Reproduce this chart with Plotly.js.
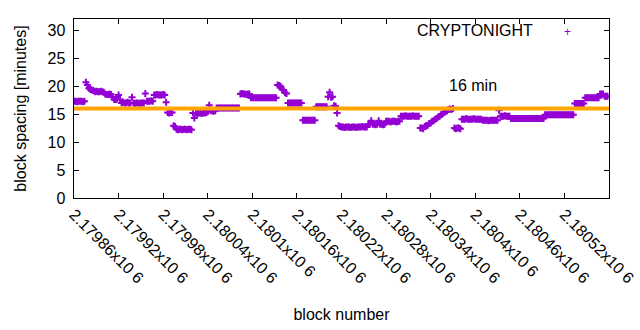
<!DOCTYPE html>
<html>
<head>
<meta charset="utf-8">
<script src="https://cdn.plot.ly/plotly-3.0.1.min.js"></script>
<style>html,body{margin:0;padding:0;background:#fff;}#chart{width:640px;height:330px;}</style>
</head>
<body>
<div id="chart"></div>
<script>
// block spacing [minutes], one reading every 2 blocks starting at firstBlock
const firstBlock = 2179860;
const blockStep = 2;
const spacingMinutes = [
  17.3,17.3,17.2,17.3,17.3,17.3,17.2,17.3,
  20.7,20.2,
  19.6,19.4,19.3,19.2,
  19.0,19.1,19.0,19.0,19.1,19.0,18.9,
  18.6,18.5,18.5,18.6,18.5,
  18.0,
  17.6,17.6,17.7,18.4,17.6,
  17.0,17.1,17.0,17.0,17.1,17.0,17.0,
  18.0,
  17.0,16.9,17.0,17.0,16.9,17.0,17.0,17.0,
  18.7,
  17.3,17.3,17.3,17.4,17.3,
  18.4,18.4,18.5,18.4,18.4,18.4,18.5,18.4,
  17.1,
  15.3,15.2,15.3,15.3,
  12.9,12.8,
  12.3,12.2,12.3,12.3,12.2,12.3,12.3,12.2,12.3,12.3,12.2,
  15.2,14.3,15.2,15.1,15.2,15.2,15.1,15.2,15.2,15.3,
  15.4,
  16.6,
  15.6,15.6,15.5,15.6,
  16.1,16.1,16.1,16.1,16.1,16.1,16.1,16.1,16.1,16.1,16.1,16.1,16.1,16.1,16.1,16.1,
  18.6,18.7,18.6,18.6,18.5,18.6,18.6,
  17.9,17.9,17.9,17.9,17.9,17.9,17.9,17.9,17.9,17.9,17.9,17.9,17.9,17.9,17.9,17.9,17.9,17.9,
  20.2,20.1,20.0,
  19.4,19.3,
  18.8,18.7,
  17.0,17.0,17.0,17.0,17.0,17.0,17.0,17.0,17.0,17.0,
  13.9,13.9,13.9,13.9,13.9,13.9,13.9,13.9,13.9,
  16.3,16.3,16.3,16.3,16.3,16.3,16.3,16.3,
  18.1,18.9,18.0,18.1,
  16.5,16.4,
  15.2,
  12.9,12.8,
  12.7,12.7,12.6,12.7,12.7,12.7,12.6,12.7,12.7,12.7,12.6,12.7,12.7,12.7,12.8,12.7,12.7,12.7,
  13.2,13.2,13.8,13.2,13.2,13.1,13.2,13.8,13.2,13.2,13.1,13.2,
  13.7,13.7,13.7,13.6,13.7,13.7,13.7,13.6,13.7,13.7,
  14.6,14.6,14.6,14.7,14.6,14.6,14.6,14.6,14.7,14.6,14.6,14.6,14.6,
  12.5,12.5,12.4,
  12.8,12.9,13.0,13.3,13.4,13.7,13.8,14.1,14.2,14.5,14.6,14.9,15.0,15.3,15.4,15.6,
  15.8,15.9,15.8,16.0,
  12.5,12.4,12.5,12.5,12.4,
  14.1,14.1,14.1,14.2,14.1,14.1,14.1,14.1,14.2,14.1,14.1,14.1,14.1,14.1,
  13.9,13.9,13.9,13.9,13.8,13.9,13.9,13.9,13.9,13.9,13.9,
  15.7,14.6,14.6,14.6,14.7,14.6,14.6,14.6,
  14.2,14.2,14.2,14.2,14.2,14.2,14.2,14.2,14.2,14.2,14.2,14.2,14.2,14.2,14.2,14.2,14.2,14.2,14.2,14.2,14.2,14.2,14.2,
  14.9,14.9,14.9,14.9,14.9,14.9,14.9,14.9,14.9,14.9,14.9,14.9,14.9,14.9,14.9,14.9,14.9,14.9,14.9,14.9,
  16.9,16.9,16.9,16.9,16.9,16.9,16.9,
  17.9,17.9,17.9,17.9,17.9,17.9,17.9,17.9,17.9,17.9,
  18.6,18.6,18.6,
  18.2,18.2,18.2
];
const blockNumbers = spacingMinutes.map((_, i) => firstBlock + i * blockStep);

const xTickValues = [2179860,2179920,2179980,2180040,2180100,2180160,2180220,2180280,2180340,2180400,2180460,2180520,2180580];
const xTickLabels = ["2.17986x10 6","2.17992x10 6","2.17998x10 6","2.18004x10 6","2.1801x10 6","2.18016x10 6","2.18022x10 6","2.18028x10 6","2.18034x10 6","2.1804x10 6","2.18046x10 6","2.18052x10 6","2.18058x10 6"];
const targetMinutes = 16;
const seriesName = "CRYPTONIGHT";

const FONT = "Liberation Sans, Arial, sans-serif";

const trace = {
  type: "scatter",
  mode: "markers",
  name: seriesName,
  x: blockNumbers,
  y: spacingMinutes,
  marker: {symbol: "cross-thin", size: 5, color: "#9400D3", line: {color: "#9400D3", width: 2}},
  showlegend: false,
  hoverinfo: "x+y"
};

const layout = {
  width: 640, height: 330,
  margin: {l: 74, r: 31, t: 19, b: 132, pad: 0},
  paper_bgcolor: "#fff", plot_bgcolor: "#fff",
  font: {family: FONT, size: 16, color: "#000"},
  xaxis: {
    range: [xTickValues[0], xTickValues[xTickValues.length - 1]],
    tickvals: xTickValues, ticktext: xTickLabels, tickangle: 45,
    ticks: "inside", ticklen: 5, tickcolor: "#000",
    showline: true, linecolor: "#000", linewidth: 1, mirror: "ticks",
    showgrid: false, zeroline: false,
    tickfont: {family: FONT, size: 16, color: "#000"},
    title: {text: "block number", font: {family: FONT, size: 16}, standoff: 23},
    automargin: false
  },
  yaxis: {
    range: [0, 32], dtick: 5, tick0: 0,
    ticks: "inside", ticklen: 5, tickcolor: "#000",
    showline: true, linecolor: "#000", linewidth: 1, mirror: "ticks",
    showgrid: false, zeroline: false,
    tickfont: {family: FONT, size: 16, color: "#000"},
    ticksuffix: " ",
    title: {text: "block spacing [minutes]", font: {family: FONT, size: 16}, standoff: 16},
    automargin: false
  },
  shapes: [{
    type: "line", xref: "paper", x0: 0, x1: 1, yref: "y", y0: targetMinutes, y1: targetMinutes,
    line: {color: "#FFA500", width: 4}, layer: "above"
  }],
  annotations: [
    {xref: "paper", yref: "paper", x: 0.861, y: 0.933, xanchor: "right", yanchor: "middle",
     text: seriesName, showarrow: false, font: {family: FONT, size: 16, color: "#000"}},
    {xref: "paper", yref: "paper", x: 0.9215, y: 0.927, xanchor: "center", yanchor: "middle",
     text: "+", showarrow: false, font: {family: FONT, size: 12, color: "#9400D3"}},
    {xref: "paper", yref: "paper", x: 0.746, y: 0.626, xanchor: "center", yanchor: "middle",
     text: targetMinutes + " min", showarrow: false, font: {family: FONT, size: 16, color: "#000"}}
  ]
};

Plotly.newPlot("chart", [trace], layout, {displayModeBar: false, staticPlot: true});
</script>
</body>
</html>
